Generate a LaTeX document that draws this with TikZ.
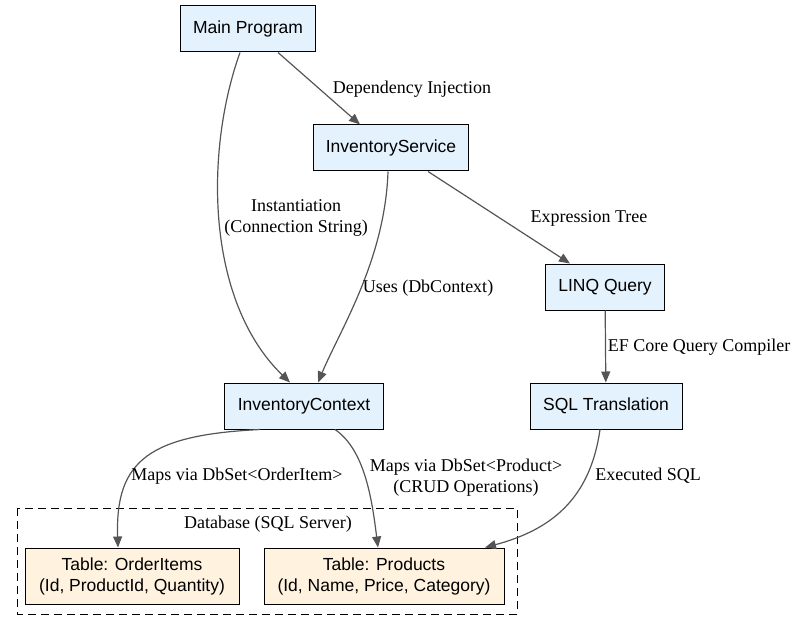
\documentclass[tikz,border=0pt]{standalone}
\usepackage{fontspec}
\setmainfont{Liberation Serif}
\setsansfont{Liberation Sans}
\usetikzlibrary{arrows.meta}
\definecolor{codebox}{HTML}{E3F2FD}
\definecolor{tablebox}{HTML}{FFF3E0}
\definecolor{edgegray}{HTML}{555555}
\tikzset{
  comp/.style={draw, fill=codebox, line width=1pt, minimum height=46pt, inner xsep=8pt, align=center, font=\sffamily\fontsize{17.5}{21}\selectfont},
  tbl/.style={comp, fill=tablebox},
  flow/.style={draw=edgegray, -{Triangle[length=11pt,width=9pt]}, line width=1.2pt},
  lbl/.style={font=\fontsize{18}{21}\selectfont, align=center}
}
\begin{document}
\begin{tikzpicture}[x=1pt,y=-1pt]
      \useasboundingbox (0,0) rectangle (797,631);
      \draw[dash pattern=on 8pt off 5pt, line width=1pt] (17,508) rectangle (517,614);
      \node[lbl] (db) at (268,524) {Database (SQL Server)};
      \node[comp, minimum width=135pt] (main) at (248,29) {Main Program};
      \node[comp, minimum width=155pt] (svc) at (391,148) {InventoryService};
      \node[comp, minimum width=119pt] (linq) at (605,287) {LINQ Query};
      \node[comp, minimum width=159pt] (ctx) at (304,406) {InventoryContext};
      \node[comp, minimum width=152pt] (sql) at (606,406) {SQL Translation};
      \node[tbl, minimum width=214pt, minimum height=56pt] (items) at (132,576) {Table: OrderItems\\(Id, ProductId, Quantity)};
      \node[tbl, minimum width=240pt, minimum height=56pt] (prod) at (384,576) {Table: Products\\(Id, Name, Price, Category)};
      % edges
      \draw[flow] ([xshift=30pt]main.south) -- ([xshift=-31pt]svc.north);
      \draw[flow] ([xshift=-8pt]main.south) .. controls (205,150) and (205,300) .. ([xshift=-14pt]ctx.north);
      \draw[flow] ([xshift=-3pt]svc.south) .. controls (385,260) and (340,330) .. ([xshift=14pt]ctx.north);
      \draw[flow] ([xshift=37pt]svc.south) -- ([xshift=-35pt]linq.north);
      \draw[flow] (linq) -- (sql);
      \draw[flow] ([xshift=-44pt]ctx.south) .. controls (150,435) and (115,460) .. ([xshift=-14pt]items.north);
      \draw[flow] ([xshift=31pt]ctx.south) .. controls (365,450) and (372,500) .. ([xshift=-6pt]prod.north);
      \draw[flow] ([xshift=-6pt]sql.south) .. controls (590,500) and (550,530) .. ([xshift=101pt]prod.north);
      % labels
      \node[lbl] (l1) at (412,89) {Dependency Injection};
      \node[lbl] (l2) at (296,218) {Instantiation\\(Connection String)};
      \node[lbl] (l3) at (428,288) {Uses (DbContext)};
      \node[lbl] (l4) at (589,218) {Expression Tree};
      \node[lbl] (l5) at (699,347) {EF Core Query Compiler};
      \node[lbl] (l6) at (237,476) {Maps via DbSet<OrderItem>};
      \node[lbl] (l7) at (466,478) {Maps via DbSet<Product>\\(CRUD Operations)};
      \node[lbl] (l8) at (648,476) {Executed SQL};
\end{tikzpicture}
\end{document}
